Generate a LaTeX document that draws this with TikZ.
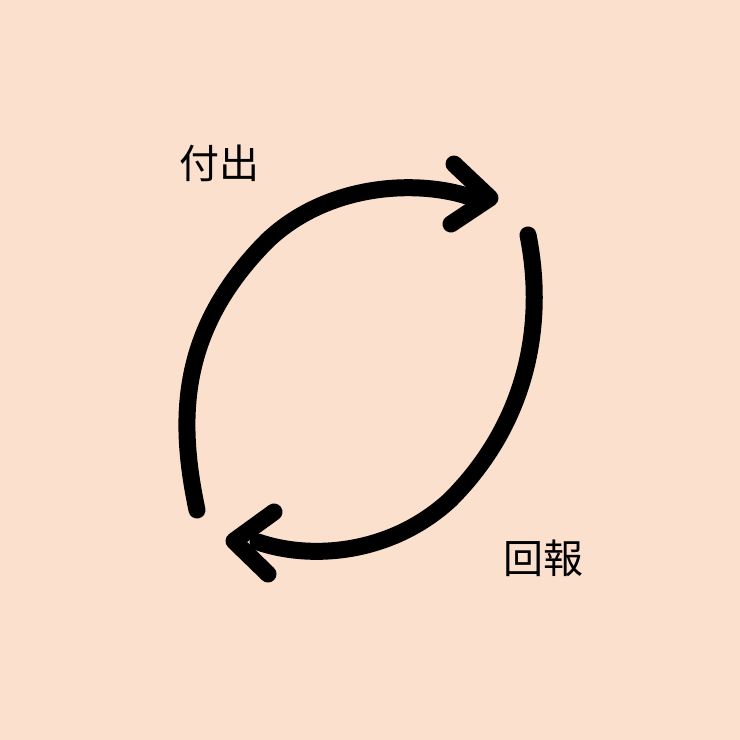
\documentclass[tikz,border=0pt]{standalone}
\usepackage{fontspec}
\newfontfamily\cjk{Noto Sans CJK TC}
\definecolor{peach}{HTML}{FBE0CD}
\begin{document}
\begin{tikzpicture}[x=1pt,y=-1pt,
  stroke/.style={line width=17pt,line cap=round,line join=round,black},
  lbl/.style={font=\cjk\fontsize{40}{40}\selectfont,inner sep=0pt,text=black}]
\fill[peach] (0,0) rectangle (740,740);
\useasboundingbox (0,0) rectangle (740,740);
% top arc
\coordinate (a1) at (197,510);
\coordinate (a2) at (268,240);
\coordinate (a3) at (470,197);
\draw[stroke] (a1) .. controls (178,420) and (178,330) .. (a2) .. controls (330,182) and (420,180) .. (a3);
\coordinate (t1) at (454,164);
\coordinate (t2) at (490,198);
\coordinate (t3) at (451,224);
\draw[stroke] (t1) -- (t2) -- (t3);
% bottom arc
\coordinate (b1) at (528,235);
\coordinate (b2) at (450,500);
\coordinate (b3) at (258,542);
\draw[stroke] (b1) .. controls (545,320) and (530,420) .. (b2) .. controls (390,555) and (310,560) .. (b3);
\coordinate (u1) at (274,512);
\coordinate (u2) at (234,541);
\coordinate (u3) at (268,574);
\draw[stroke] (u1) -- (u2) -- (u3);
\node[lbl] (give) at (219,163) {付出};
\node[lbl] (ret) at (543,558) {回報};
\end{tikzpicture}
\end{document}
